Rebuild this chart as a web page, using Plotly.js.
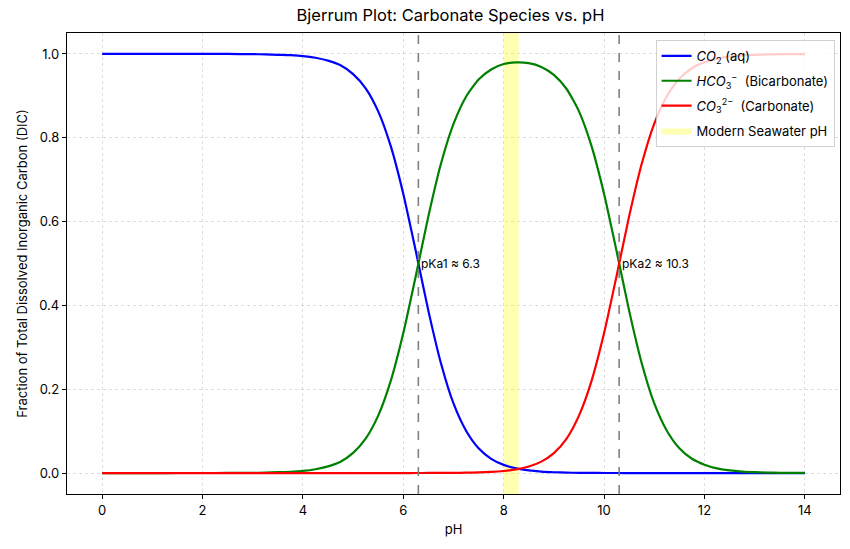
<!DOCTYPE html>
<html>
<head>
<meta charset="utf-8">
<script src="https://cdn.plot.ly/plotly-3.0.1.min.js"></script>
<style>html,body{margin:0;padding:0;background:#fff}#chart{width:850px;height:549px}</style>
</head>
<body>
<div id="chart"></div>
<script>
// pH sample points
const pH = [0, 0.5, 1, 1.5, 2, 2.5, 3, 3.25, 3.5, 3.75, 4, 4.25, 4.5, 4.75, 5, 5.25, 5.5, 5.75, 6, 6.25, 6.5, 6.75,
            7, 7.25, 7.5, 7.75, 8, 8.25, 8.5, 8.75, 9, 9.25, 9.5, 9.75, 10, 10.25, 10.5, 10.75, 11, 11.25, 11.5, 11.75,
            12, 12.25, 12.5, 12.75, 13, 13.25, 13.5, 13.75, 14];
// fraction of DIC
const co2 = [1.000, 1.000, 1.000, 1.000, 1.000, 1.000, 0.9995, 0.9991, 0.998, 0.997, 0.995, 0.991, 0.984, 0.973, 0.952, 0.918, 0.863, 0.780, 0.666, 0.529, 0.387, 0.262,
             0.166, 0.101, 0.059, 0.034, 0.0195, 0.011, 0.0062, 0.0034, 0.0019, 0.0010, 0.0005, 0.0003, 0.0001, 0.0001, 0.0000, 0.0000, 0.0000, 0.0000, 0.0000, 0.0000,
             0.0000, 0.0000, 0.0000, 0.0000, 0.0000, 0.0000, 0.0000, 0.0000, 0.0000];
const hco3 = [0.000, 0.000, 0.000, 0.0001, 0.0001, 0.0002, 0.0005, 0.0009, 0.002, 0.003, 0.005, 0.009, 0.016, 0.027, 0.048, 0.082, 0.137, 0.220, 0.334, 0.471, 0.613, 0.738,
              0.833, 0.898, 0.939, 0.963, 0.976, 0.980, 0.978, 0.969, 0.950, 0.917, 0.863, 0.780, 0.666, 0.529, 0.387, 0.262, 0.166, 0.101, 0.059, 0.034,
              0.020, 0.011, 0.0063, 0.0035, 0.0020, 0.0011, 0.0006, 0.0004, 0.0002];
const co3 = [0.000, 0.000, 0.000, 0.000, 0.000, 0.000, 0.000, 0.000, 0.000, 0.000, 0.000, 0.000, 0.000, 0.000, 0.000, 0.000, 0.000, 0.000, 0.000, 0.0001, 0.0002, 0.0004,
             0.0004, 0.0008, 0.0015, 0.0027, 0.0049, 0.0087, 0.0155, 0.0273, 0.0476, 0.0817, 0.137, 0.220, 0.334, 0.471, 0.613, 0.738, 0.834, 0.899, 0.941, 0.966,
             0.980, 0.989, 0.994, 0.9965, 0.998, 0.9989, 0.9994, 0.9996, 0.9998];
const pKa = [6.3, 10.3];
const pKaLabels = ['pKa1 ≈ 6.3', 'pKa2 ≈ 10.3'];
const seawater = [8.0, 8.3];
const xRange = [-0.7, 14.7];
const yRange = [-0.05, 1.05];

const font = 'Inter, "Open Sans", sans-serif';

const traces = [
  {x: [seawater[0], seawater[0], seawater[1], seawater[1], seawater[0]],
   y: [yRange[0], yRange[1], yRange[1], yRange[0], yRange[0]],
   type: 'scatter', mode: 'lines', fill: 'toself', fillcolor: 'rgba(255,255,0,0.3)',
   line: {width: 0}, name: 'Modern Seawater pH', legendrank: 4, legendgroup: 'g4', hoverinfo: 'skip'},
  {x: pH, y: co2, type: 'scatter', mode: 'lines', line: {color: 'blue', width: 2.2, shape: 'spline', smoothing: 0.6},
   name: '<i>CO</i><sub>2</sub> (aq)', legendrank: 1, legendgroup: 'g1'},
  {x: pH, y: hco3, type: 'scatter', mode: 'lines', line: {color: 'green', width: 2.2, shape: 'spline', smoothing: 0.6},
   name: '<i>HCO</i><sub>3</sub><sup>−</sup>  (Bicarbonate)', legendrank: 2, legendgroup: 'g2'},
  {x: pH, y: co3, type: 'scatter', mode: 'lines', line: {color: 'red', width: 2.2, shape: 'spline', smoothing: 0.6},
   name: '<i>CO</i><sub>3</sub><sup>2−</sup>  (Carbonate)', legendrank: 3, legendgroup: 'g3'}
];

const shapes = pKa.map(v => ({type: 'line', xref: 'x', yref: 'paper', x0: v, x1: v, y0: 0, y1: 1,
  line: {color: 'gray', width: 1.6, dash: 'dash'}}));

const annotations = pKa.map((v, i) => ({x: v, y: 0.5, xref: 'x', yref: 'y', text: pKaLabels[i],
  showarrow: false, xanchor: 'left', yanchor: 'middle', xshift: 1, font: {size: 12, color: 'black', family: font}}));

const axisCommon = {showline: true, linecolor: 'black', linewidth: 1.2, mirror: true, ticks: 'outside', ticklen: 4,
  tickcolor: 'black', showgrid: true, gridcolor: 'rgba(0,0,0,0.16)', griddash: 'dot', gridwidth: 0.8, zeroline: false,
  tickfont: {size: 13, color: 'black', family: font}};

const layout = {
  width: 850, height: 549,
  margin: {l: 67, r: 10, t: 33, b: 55},
  paper_bgcolor: 'white', plot_bgcolor: 'white',
  font: {family: font, color: 'black'},
  title: {text: 'Bjerrum Plot: Carbonate Species vs. pH', x: 0.53, xanchor: 'center', y: 0.973, yanchor: 'middle',
          font: {size: 16.5, color: 'black', family: font}},
  xaxis: Object.assign({}, axisCommon, {range: xRange, tickvals: [0, 2, 4, 6, 8, 10, 12, 14],
          title: {text: 'pH', font: {size: 13, family: font}, standoff: 8}}),
  yaxis: Object.assign({}, axisCommon, {range: yRange, tickvals: [0, 0.2, 0.4, 0.6, 0.8, 1.0], tickformat: '.1f',
          title: {text: 'Fraction of Total Dissolved Inorganic Carbon (DIC)', font: {size: 13, family: font}, standoff: 8}}),
  shapes: shapes,
  annotations: annotations,
  showlegend: true,
  legend: {x: 0.993, y: 0.985, xanchor: 'right', yanchor: 'top', bgcolor: 'rgba(255,255,255,0.8)',
           bordercolor: 'rgba(0,0,0,0.18)', borderwidth: 1, font: {size: 13, family: font}, itemwidth: 30,
           tracegroupgap: 5}
};

Plotly.newPlot('chart', traces, layout, {displayModeBar: false, staticPlot: true});
</script>
</body>
</html>
